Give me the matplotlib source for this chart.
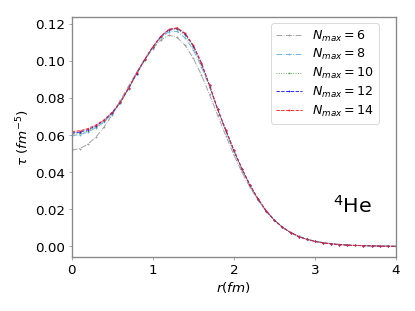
import numpy as np
import matplotlib
matplotlib.use("Agg")
import matplotlib.pyplot as plt

r = np.round(np.arange(0, 4.01, 0.1), 1)

tau_6 = [0.0520, 0.0528, 0.0552, 0.0592, 0.0645, 0.0712, 0.0790, 0.0865, 0.0940, 0.1010,
         0.1068, 0.1115, 0.1140, 0.1128, 0.1085, 0.1015, 0.0925, 0.0820, 0.0708, 0.0598,
         0.0495, 0.0400, 0.0318, 0.0248, 0.0188, 0.0141, 0.0104, 0.0076, 0.0055, 0.0040,
         0.0029, 0.0021, 0.0015, 0.0011, 0.0008, 0.0006, 0.0004, 0.0003, 0.0002, 0.0002, 0.0001]
tau_8 = [0.0598, 0.0603, 0.0617, 0.0640, 0.0672, 0.0715, 0.0775, 0.0850, 0.0930, 0.1005,
         0.1072, 0.1128, 0.1158, 0.1160, 0.1125, 0.1060, 0.0970, 0.0860, 0.0740, 0.0622,
         0.0512, 0.0413, 0.0326, 0.0253, 0.0191, 0.0142, 0.0104, 0.0075, 0.0054, 0.0039,
         0.0028, 0.0020, 0.0014, 0.0010, 0.0007, 0.0005, 0.0004, 0.0003, 0.0002, 0.0001, 0.0001]
tau_10 = [0.0605, 0.0610, 0.0623, 0.0645, 0.0676, 0.0718, 0.0776, 0.0851, 0.0932, 0.1008,
          0.1075, 0.1132, 0.1166, 0.1172, 0.1140, 0.1075, 0.0982, 0.0866, 0.0739, 0.0625,
          0.0517, 0.0418, 0.0329, 0.0255, 0.0191, 0.0142, 0.0103, 0.0075, 0.0053, 0.0038,
          0.0027, 0.0019, 0.0014, 0.0010, 0.0007, 0.0005, 0.0004, 0.0003, 0.0002, 0.0001, 0.0001]
tau_12 = [0.0612, 0.0617, 0.0630, 0.0651, 0.0681, 0.0722, 0.0778, 0.0853, 0.0933, 0.1009,
          0.1077, 0.1134, 0.1170, 0.1177, 0.1147, 0.1082, 0.0988, 0.0869, 0.0740, 0.0628,
          0.0519, 0.0419, 0.0330, 0.0255, 0.0191, 0.0142, 0.0103, 0.0075, 0.0053, 0.0038,
          0.0027, 0.0019, 0.0014, 0.0010, 0.0007, 0.0005, 0.0004, 0.0003, 0.0002, 0.0001, 0.0001]
tau_14 = [0.0620, 0.0624, 0.0636, 0.0656, 0.0684, 0.0725, 0.0780, 0.0855, 0.0935, 0.1010,
          0.1078, 0.1135, 0.1172, 0.1180, 0.1150, 0.1085, 0.0990, 0.0870, 0.0740, 0.0630,
          0.0520, 0.0420, 0.0330, 0.0255, 0.0192, 0.0142, 0.0103, 0.0075, 0.0053, 0.0038,
          0.0027, 0.0019, 0.0014, 0.0010, 0.0007, 0.0005, 0.0004, 0.0003, 0.0002, 0.0001, 0.0001]

nmax = [6, 8, 10, 12, 14]
series = [tau_6, tau_8, tau_10, tau_12, tau_14]
colors = ['#999999', '#6ab0de', '#4aa84a', '#1a1aff', '#ff1a1a']
styles = ['-.', '-.', ':', '--', '--']

fig = plt.figure(figsize=(6.4, 4.8), dpi=415 / 6.4)
ax = fig.add_axes([0.173, 0.173, 0.781, 0.772])

for n, tau, c, ls in zip(nmax, series, colors, styles):
    ax.plot(r, tau, color=c, linestyle=ls, marker='.', markersize=2,
            linewidth=1.0, label=r'$N_{max} = %d$' % n)

ax.set_xlim(0, 4)
ax.set_xticks([0, 1, 2, 3, 4])
ax.set_yticks([0.00, 0.02, 0.04, 0.06, 0.08, 0.10, 0.12])
ax.tick_params(labelsize=15, color='#888888')
for sp in ax.spines.values():
    sp.set_color('#888888')
    sp.set_linewidth(1.5)

ax.set_xlabel(r'$r(fm)$', fontsize=15)
ax.set_ylabel(r'$\tau\ (fm^{-5})$', fontsize=15)
ax.text(3.22, 0.022, r'$^4$He', fontsize=23, va='center')
ax.legend(loc='upper right', bbox_to_anchor=(0.966, 1.0), fontsize=14,
          handlelength=2.0, labelspacing=0.3)

fig.savefig('out.png')
